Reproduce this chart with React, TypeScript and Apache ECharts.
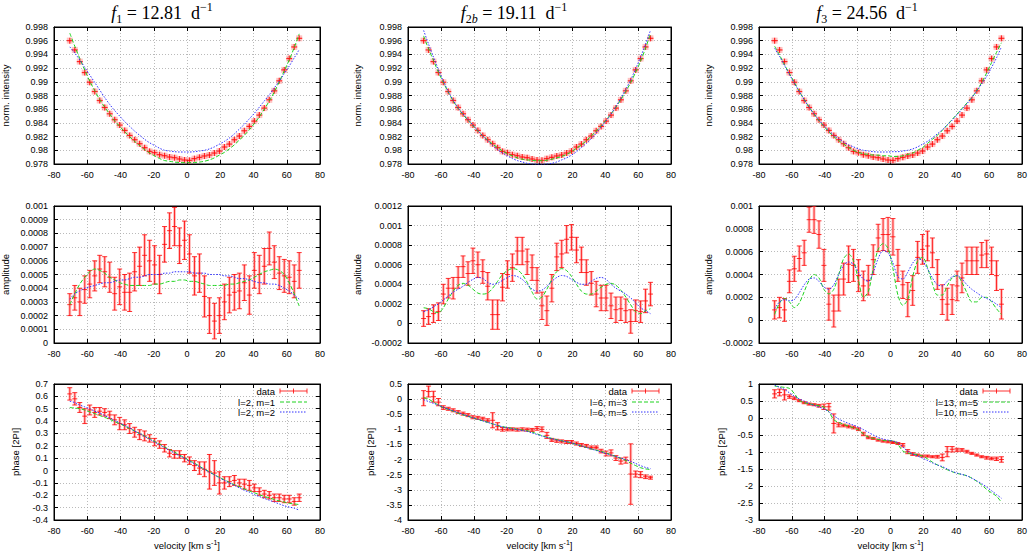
import React, { useEffect, useRef } from "react";
import * as echarts from "echarts";

// velocity grid of the line profile [km/s]
const velocity = [
  -70.5, -67.5, -64.5, -61.5, -58.5, -55.5, -52.5, -49.5, -46.5, -43.5,
  -40.5, -37.5, -34.5, -31.5, -28.5, -25.5, -22.5, -19.5, -16.5, -13.5,
  -10.5, -7.5, -4.5, -1.5, 1.5, 4.5, 7.5, 10.5, 13.5, 16.5,
  19.5, 22.5, 25.5, 28.5, 31.5, 34.5, 37.5, 40.5, 43.5, 46.5,
  49.5, 52.5, 55.5, 58.5, 61.5, 64.5, 67.5,
];

const velocityAxis = [-80, 80, 20];

// row 1: mean line profile (same data in all three columns)
const intensity = [
  0.99601, 0.99465, 0.99295, 0.99135, 0.98994, 0.98858, 0.98727, 0.98625, 0.98533, 0.98446,
  0.98368, 0.9829, 0.98217, 0.98154, 0.98096, 0.98038, 0.97984, 0.97965, 0.97936, 0.97921,
  0.97902, 0.97892, 0.97873, 0.97858, 0.97853, 0.97878, 0.97897, 0.97917, 0.97931, 0.9796,
  0.97989, 0.98048, 0.98091, 0.98154, 0.98208, 0.98285, 0.98349, 0.98426, 0.98514, 0.98616,
  0.98737, 0.98868, 0.99014, 0.99174, 0.99339, 0.99509, 0.99635,
];
const f1IntGreen = [
  0.9971, 0.9952, 0.9934, 0.9917, 0.9901, 0.9887, 0.9874, 0.9863, 0.9853, 0.9843,
  0.9835, 0.9827, 0.982, 0.9813, 0.9807, 0.9801, 0.9796, 0.9792, 0.9788, 0.9785,
  0.9784, 0.97828, 0.97822, 0.9782, 0.9782, 0.97822, 0.97828, 0.9784, 0.9786, 0.9789,
  0.9793, 0.9797, 0.9802, 0.9808, 0.9815, 0.9822, 0.983, 0.9839, 0.9849, 0.986,
  0.9872, 0.9885, 0.99, 0.9916, 0.9932, 0.995, 0.997,
];
const f1IntBlue = [
  0.9951, 0.9942, 0.9932, 0.9921, 0.991, 0.9899, 0.9888, 0.9877, 0.9867, 0.9858,
  0.985, 0.9842, 0.9835, 0.9828, 0.9822, 0.9816, 0.9811, 0.9807, 0.9803, 0.98,
  0.9799, 0.9798, 0.97975, 0.97975, 0.97975, 0.9798, 0.9799, 0.98, 0.9802, 0.9805,
  0.9809, 0.9813, 0.9818, 0.9824, 0.9831, 0.9838, 0.9846, 0.9854, 0.9863, 0.9872,
  0.9881, 0.9891, 0.9901, 0.9912, 0.9923, 0.9935, 0.9947,
];
const f2IntGreen = [
  0.9967, 0.9948, 0.9931, 0.9914, 0.9899, 0.9885, 0.9872, 0.9861, 0.9852, 0.9844,
  0.9836, 0.9828, 0.9821, 0.9815, 0.9809, 0.9804, 0.9799, 0.9795, 0.9792, 0.9789,
  0.9787, 0.9786, 0.97852, 0.97848, 0.97848, 0.97855, 0.9787, 0.9789, 0.9791, 0.9794,
  0.9798, 0.9803, 0.9808, 0.9814, 0.9821, 0.9828, 0.9836, 0.9844, 0.9853, 0.9863,
  0.9874, 0.9886, 0.9899, 0.9914, 0.993, 0.9949, 0.997,
];
const f2IntBlue = [
  0.9975, 0.9955, 0.9936, 0.9918, 0.9901, 0.9886, 0.9873, 0.9862, 0.9853, 0.9845,
  0.9837, 0.9829, 0.9821, 0.9814, 0.9807, 0.9801, 0.9796, 0.9792, 0.9788, 0.9785,
  0.9783, 0.9781, 0.978, 0.97795, 0.97795, 0.978, 0.9781, 0.9783, 0.9786, 0.9789,
  0.9793, 0.9798, 0.9804, 0.981, 0.9817, 0.9825, 0.9834, 0.9843, 0.9853, 0.9864,
  0.9876, 0.9889, 0.9903, 0.9919, 0.9936, 0.9955, 0.9975,
];
const f3IntGreen = [
  0.9952, 0.9939, 0.9925, 0.9912, 0.9899, 0.9886, 0.9874, 0.9863, 0.9853, 0.9843,
  0.9835, 0.9827, 0.982, 0.9814, 0.9809, 0.9804, 0.98, 0.9797, 0.9795, 0.9794,
  0.9793, 0.9793, 0.9792, 0.9792, 0.9791, 0.9791, 0.9792, 0.9794, 0.9796, 0.98,
  0.9804, 0.981, 0.9816, 0.9822, 0.9829, 0.9837, 0.9845, 0.9853, 0.9861, 0.9869,
  0.9877, 0.9887, 0.9899, 0.9913, 0.9928, 0.9943, 0.9957,
];
const f3IntBlue = [
  0.9949, 0.9937, 0.9924, 0.9911, 0.9898, 0.9886, 0.9874, 0.9863, 0.9853, 0.9844,
  0.9836, 0.9829, 0.9822, 0.9817, 0.9812, 0.9808, 0.9805, 0.9802, 0.98, 0.9799,
  0.9798, 0.97975, 0.97975, 0.97975, 0.9798, 0.9798, 0.9799, 0.98, 0.9802, 0.9805,
  0.9809, 0.9813, 0.9818, 0.9824, 0.983, 0.9837, 0.9844, 0.9852, 0.986, 0.9868,
  0.9877, 0.9887, 0.9897, 0.9908, 0.9921, 0.9935, 0.9951,
];

// row 2: amplitude
const f1Amp = [
  0.00028, 0.00033, 0.0003, 0.00039, 0.00043, 0.00049, 0.00054, 0.00052, 0.00048, 0.00036,
  0.00041, 0.00037, 0.00037, 0.00052, 0.00056, 0.00064, 0.0006, 0.00057, 0.0005, 0.00072,
  0.00082, 0.00085, 0.00071, 0.00075, 0.00065, 0.00049, 0.00051, 0.00034, 0.0002, 0.00016,
  0.0002, 0.0003, 0.00035, 0.00037, 0.00038, 0.00044, 0.00035, 0.00053, 0.0005, 0.00056,
  0.00069, 0.00059, 0.00051, 0.00049, 0.00048, 0.00045, 0.00053,
];
const f1AmpErr = [
  0.00008, 0.00009, 0.0001, 0.0001, 0.0001, 0.00011, 0.0001, 0.00011, 0.00011, 0.00012,
  0.00013, 0.00013, 0.00014, 0.00014, 0.00014, 0.00015, 0.00015, 0.00014, 0.00014, 0.00013,
  0.00013, 0.00014, 0.00013, 0.00014, 0.00014, 0.00014, 0.00014, 0.00015, 0.00013, 0.00013,
  0.00013, 0.00013, 0.00013, 0.00013, 0.00013, 0.00013, 0.00014, 0.00013, 0.00014, 0.00013,
  0.00012, 0.00012, 0.00012, 0.00012, 0.00012, 0.00012, 0.00013,
];
const f1AmpGreen = [
  0.00028, 0.00036, 0.00043, 0.00048, 0.00052, 0.00054, 0.00053, 0.00051, 0.00048, 0.00046,
  0.00044, 0.00043, 0.00042, 0.00042, 0.00042, 0.00042, 0.00042, 0.00043, 0.00043, 0.00044,
  0.00045, 0.00045, 0.00046, 0.00046, 0.00045, 0.00045, 0.00044, 0.00043, 0.00042, 0.00042,
  0.00042, 0.00042, 0.00043, 0.00043, 0.00044, 0.00045, 0.00046, 0.00048, 0.0005, 0.00052,
  0.00053, 0.00054, 0.00053, 0.0005, 0.00044, 0.00036, 0.00027,
];
const f1AmpBlue = [
  0.00032, 0.00036, 0.00038, 0.0004, 0.00041, 0.00042, 0.00043, 0.00044, 0.00044, 0.00045,
  0.00046, 0.00046, 0.00047, 0.00048, 0.00048, 0.00049, 0.0005, 0.0005, 0.0005, 0.00051,
  0.00051, 0.00052, 0.00052, 0.00052, 0.00052, 0.00051, 0.00051, 0.00051, 0.0005, 0.0005,
  0.0005, 0.00049, 0.00049, 0.00048, 0.00047, 0.00047, 0.00046, 0.00045, 0.00044, 0.00044,
  0.00043, 0.00043, 0.00042, 0.0004, 0.00038, 0.00035, 0.00032,
];
const f2Amp = [
  0.00005, 0.00007, 0.0001, 0.00012, 0.0003, 0.00036, 0.00036, 0.00047, 0.00058, 0.00051,
  0.00064, 0.0006, 0.00053, 0.00038, 0.00009, 0.00009, 0.00037, 0.0005, 0.00057, 0.00074,
  0.00074, 0.00063, 0.00057, 0.00044, 0.00018, 0.00013, 0.00036, 0.00068, 0.00071, 0.00086,
  0.00088, 0.00075, 0.00065, 0.00052, 0.00041, 0.0003, 0.00026, 0.00026, 0.00018, 0.00014,
  0.00015, 0.00013, 0.00002, 0.00013, 0.00012, 0.00023, 0.0003,
];
const f2AmpErr = [
  0.00008, 0.00008, 0.00009, 0.00009, 0.0001, 0.0001, 0.00011, 0.00011, 0.00011, 0.00012,
  0.00013, 0.00013, 0.00012, 0.00014, 0.00015, 0.00015, 0.00014, 0.00014, 0.00014, 0.00014,
  0.00014, 0.00013, 0.00013, 0.00013, 0.00014, 0.00015, 0.00014, 0.00014, 0.00014, 0.00014,
  0.00013, 0.00013, 0.00013, 0.00013, 0.00012, 0.00013, 0.00013, 0.00013, 0.00013, 0.00013,
  0.00012, 0.00012, 0.00012, 0.00011, 0.00011, 0.00012, 0.00012,
];
const f2AmpGreen = [
  0.00016, 0.00015, 0.00012, 0.00011, 0.00016, 0.00025, 0.00033, 0.00039, 0.00041, 0.00039,
  0.00035, 0.00031, 0.0003, 0.00031, 0.00036, 0.00043, 0.0005, 0.00054, 0.00056, 0.00055,
  0.0005, 0.00042, 0.00032, 0.00025, 0.00027, 0.00035, 0.00045, 0.00053, 0.00056, 0.00054,
  0.00048, 0.0004, 0.00033, 0.0003, 0.0003, 0.00033, 0.00037, 0.0004, 0.00041, 0.00039,
  0.00034, 0.00027, 0.00019, 0.00012, 0.0001, 0.00013, 0.00015,
];
const f2AmpBlue = [
  0.00012, 0.00014, 0.00017, 0.0002, 0.00024, 0.00028, 0.00032, 0.00035, 0.00038, 0.00042,
  0.00045, 0.00047, 0.00046, 0.00042, 0.0004, 0.00041, 0.00044, 0.00047, 0.00049, 0.00048,
  0.00045, 0.0004, 0.00035, 0.00033, 0.00034, 0.00038, 0.00043, 0.00047, 0.00049, 0.00048,
  0.00045, 0.00042, 0.0004, 0.0004, 0.00043, 0.00046, 0.00047, 0.00045, 0.0004, 0.00036,
  0.00033, 0.0003, 0.00026, 0.00021, 0.00016, 0.00013, 0.0001,
];
const f3Amp = [
  0.00009, 0.00011, 0.00009, 0.00034, 0.00045, 0.00054, 0.00059, 0.00088, 0.00088, 0.00075,
  0.00048, 0.00014, 0.00008, 0.00022, 0.00036, 0.00049, 0.00048, 0.00039, 0.0003, 0.00035,
  0.00053, 0.00072, 0.00075, 0.00075, 0.00073, 0.00048, 0.00031, 0.00018, 0.00026, 0.00055,
  0.00062, 0.00065, 0.00059, 0.0004, 0.00018, 0.00014, 0.00018, 0.0003, 0.00037, 0.00052,
  0.00052, 0.00052, 0.00057, 0.00058, 0.00052, 0.00039, 0.00014,
];
const f3AmpErr = [
  0.00008, 0.00009, 0.0001, 0.0001, 0.00011, 0.00011, 0.00011, 0.00011, 0.00012, 0.00012,
  0.00014, 0.00014, 0.00014, 0.00014, 0.00014, 0.00016, 0.00014, 0.00014, 0.00013, 0.00013,
  0.00013, 0.00012, 0.00014, 0.00015, 0.00016, 0.00014, 0.00012, 0.00015, 0.00013, 0.00014,
  0.00013, 0.00013, 0.00013, 0.00013, 0.00013, 0.00014, 0.00013, 0.00013, 0.00013, 0.00012,
  0.00012, 0.00012, 0.00011, 0.00012, 0.00012, 0.00013, 0.00013,
];
const f3AmpGreen = [
  0.00005, 0.00015, 0.00019, 0.00016, 0.00011, 0.00015, 0.00025, 0.00035, 0.0004, 0.00037,
  0.00027, 0.00023, 0.00027, 0.0004, 0.00054, 0.00058, 0.00052, 0.00035, 0.0002, 0.00025,
  0.00045, 0.00062, 0.00067, 0.00063, 0.00045, 0.00022, 0.00013, 0.00018, 0.00038, 0.00052,
  0.00055, 0.00046, 0.00032, 0.00022, 0.00022, 0.0003, 0.00037, 0.00039, 0.00033, 0.00024,
  0.00016, 0.00016, 0.0002, 0.0002, 0.00016, 0.0001, 0.00005,
];
const f3AmpBlue = [
  0.0001, 0.00016, 0.00018, 0.00017, 0.00018, 0.00024, 0.00031, 0.00036, 0.00037, 0.00034,
  0.00029, 0.00027, 0.00031, 0.0004, 0.00048, 0.00051, 0.00049, 0.00042, 0.00036, 0.00034,
  0.00042, 0.00054, 0.00061, 0.00059, 0.0005, 0.00038, 0.00036, 0.00042, 0.0005, 0.00054,
  0.00052, 0.00045, 0.00037, 0.00031, 0.0003, 0.00034, 0.00038, 0.00039, 0.00036, 0.00031,
  0.00027, 0.00024, 0.00021, 0.00019, 0.00017, 0.00014, 0.00011,
];

// row 3: phase [2PI]
const f1Phase = [
  0.62, 0.58, 0.51, 0.44, 0.49, 0.47, 0.48, 0.47, 0.45, 0.41,
  0.38, 0.37, 0.34, 0.31, 0.29, 0.28, 0.26, 0.23, 0.21, 0.18,
  0.14, 0.13, 0.13, 0.1, 0.08, 0.04, 0.02, 0.01, -0.01, -0.02,
  -0.1, -0.1, -0.09, -0.08, -0.1, -0.11, -0.12, -0.14, -0.17, -0.19,
  -0.2, -0.22, -0.22, -0.23, -0.23, -0.25, -0.22,
];
const f1PhaseErr = [
  0.05, 0.05, 0.04, 0.06, 0.04, 0.04, 0.03, 0.03, 0.03, 0.04,
  0.05, 0.04, 0.04, 0.04, 0.04, 0.04, 0.03, 0.03, 0.03, 0.03,
  0.03, 0.03, 0.03, 0.03, 0.03, 0.04, 0.05, 0.06, 0.14, 0.1,
  0.09, 0.05, 0.04, 0.04, 0.03, 0.04, 0.04, 0.03, 0.03, 0.03,
  0.03, 0.03, 0.03, 0.03, 0.03, 0.03, 0.03,
];
const f1PhaseGreen = [
  0.51, 0.505, 0.5, 0.49, 0.475, 0.46, 0.445, 0.43, 0.415, 0.395,
  0.38, 0.36, 0.34, 0.32, 0.3, 0.28, 0.26, 0.235, 0.215, 0.19,
  0.17, 0.15, 0.125, 0.105, 0.08, 0.06, 0.035, 0.01, -0.01, -0.035,
  -0.055, -0.075, -0.095, -0.115, -0.13, -0.15, -0.165, -0.18, -0.195, -0.21,
  -0.22, -0.235, -0.245, -0.255, -0.265, -0.27, -0.275,
];
const f1PhaseBlue = [
  0.56, 0.55, 0.53, 0.515, 0.5, 0.48, 0.465, 0.445, 0.425, 0.405,
  0.385, 0.365, 0.345, 0.32, 0.3, 0.275, 0.255, 0.23, 0.21, 0.185,
  0.165, 0.14, 0.12, 0.1, 0.075, 0.055, 0.03, 0.01, -0.015, -0.035,
  -0.06, -0.08, -0.1, -0.12, -0.14, -0.16, -0.175, -0.195, -0.21, -0.225,
  -0.24, -0.255, -0.27, -0.285, -0.295, -0.305, -0.32,
];
const f2Phase = [
  0.03, 0.25, 0.08, -0.1, -0.28, -0.32, -0.37, -0.43, -0.48, -0.53,
  -0.6, -0.62, -0.65, -0.7, -0.7, -0.9, -1.0, -1.0, -1.0, -1.01,
  -1.0, -1.01, -1.02, -0.97, -1.0, -1.2, -1.35, -1.38, -1.4, -1.42,
  -1.42, -1.47, -1.52, -1.55, -1.6, -1.6, -1.72, -1.8, -1.78, -1.95,
  -2.05, -2.02, -2.48, -2.48, -2.5, -2.57, -2.6,
];
const f2PhaseErr = [
  0.25, 0.18, 0.18, 0.12, 0.06, 0.05, 0.05, 0.05, 0.05, 0.05,
  0.05, 0.05, 0.05, 0.05, 0.25, 0.12, 0.06, 0.05, 0.05, 0.05,
  0.05, 0.05, 0.05, 0.06, 0.08, 0.1, 0.05, 0.05, 0.05, 0.05,
  0.05, 0.05, 0.05, 0.05, 0.05, 0.05, 0.06, 0.08, 0.1, 0.08,
  0.1, 0.1, 1.0, 0.1, 0.1, 0.06, 0.05,
];
const f2PhaseGreen = [
  0.05, 0.0, -0.1, -0.2, -0.28, -0.34, -0.4, -0.46, -0.52, -0.57,
  -0.62, -0.67, -0.72, -0.77, -0.82, -0.87, -0.91, -0.94, -0.97, -1.0,
  -1.02, -1.05, -1.09, -1.15, -1.21, -1.26, -1.3, -1.34, -1.38, -1.41,
  -1.45, -1.5, -1.55, -1.6, -1.65, -1.69, -1.73, -1.78, -1.84, -1.9,
  -1.96, -2.03, -2.12, -2.2, -2.27, -2.31, -2.33,
];
const f2PhaseBlue = [
  -0.02, -0.08, -0.14, -0.2, -0.27, -0.33, -0.39, -0.45, -0.51, -0.56,
  -0.62, -0.67, -0.72, -0.77, -0.82, -0.87, -0.92, -0.95, -0.98, -1.01,
  -1.04, -1.07, -1.12, -1.17, -1.22, -1.27, -1.31, -1.35, -1.38, -1.41,
  -1.45, -1.5, -1.55, -1.6, -1.65, -1.7, -1.75, -1.8, -1.85, -1.9,
  -1.95, -2.0, -2.06, -2.13, -2.2, -2.26, -2.3,
];
const f3Phase = [
  0.71, 0.75, 0.68, 0.63, 0.58, 0.51, 0.45, 0.41, 0.39, 0.36,
  0.33, 0.33, -0.16, -0.2, -0.22, -0.25, -0.28, -0.33, -0.47, -0.57,
  -0.6, -0.65, -0.68, -0.7, -0.72, -0.75, -0.8, -0.99, -1.06, -1.09,
  -1.12, -1.12, -1.14, -1.14, -1.16, -0.99, -0.92, -0.94, -0.94, -0.99,
  -1.04, -1.09, -1.14, -1.17, -1.19, -1.2, -1.22,
];
const f3PhaseErr = [
  0.12, 0.1, 0.15, 0.05, 0.04, 0.03, 0.03, 0.03, 0.03, 0.04,
  0.08, 0.1, 0.28, 0.06, 0.04, 0.04, 0.04, 0.04, 0.05, 0.04,
  0.03, 0.03, 0.03, 0.03, 0.03, 0.03, 0.05, 0.06, 0.04, 0.03,
  0.03, 0.03, 0.03, 0.04, 0.1, 0.15, 0.08, 0.05, 0.04, 0.04,
  0.03, 0.03, 0.03, 0.04, 0.04, 0.05, 0.08,
];
const f3PhaseGreen = [
  0.94, 0.92, 0.9, 0.87, 0.72, 0.52, 0.45, 0.42, 0.39, 0.36,
  0.32, 0.18, -0.05, -0.13, -0.19, -0.24, -0.29, -0.35, -0.47, -0.56,
  -0.6, -0.63, -0.66, -0.67, -0.67, -0.78, -0.97, -1.03, -1.06, -1.08,
  -1.12, -1.2, -1.3, -1.38, -1.45, -1.52, -1.58, -1.63, -1.66, -1.7,
  -1.77, -1.86, -1.97, -2.1, -2.2, -2.3, -2.48,
];
const f3PhaseBlue = [
  0.97, 0.9, 0.84, 0.74, 0.64, 0.56, 0.5, 0.43, 0.37, 0.32,
  0.27, 0.18, 0.07, -0.03, -0.1, -0.16, -0.21, -0.27, -0.34, -0.42,
  -0.5, -0.57, -0.62, -0.65, -0.68, -0.72, -0.85, -0.98, -1.06, -1.12,
  -1.18, -1.25, -1.32, -1.38, -1.43, -1.5, -1.57, -1.62, -1.66, -1.7,
  -1.77, -1.85, -1.93, -2.03, -2.14, -2.25, -2.36,
];

const titles = [
  "{i|f}{s|1}{n| = 12.81  d}{p|−1}",
  "{i|f}{s|2}{si|b}{n| = 19.11  d}{p|−1}",
  "{i|f}{s|3}{n| = 24.56  d}{p|−1}",
];
const rowNames = ["norm. intensity", "amplitude", "phase [2PI]"];
const legendNames = [
  ["l=2, m=1", "l=2, m=2"],
  ["l=6, m=3", "l=6, m=5"],
  ["l=13, m=5", "l=10, m=5"],
];

// y ranges [min, max, step] per row, per column
const yRanges = [
  [[0.978, 0.998, 0.002], [0.978, 0.998, 0.002], [0.978, 0.998, 0.002]],
  [[0, 0.001, 0.0001], [-0.0002, 0.0012, 0.0002], [-0.0002, 0.001, 0.0002]],
  [[-0.4, 0.7, 0.1], [-4, 0.5, 0.5], [-3, 1, 0.5]],
];

const panelData = [
  [
    { values: intensity, err: null, green: f1IntGreen, blue: f1IntBlue },
    { values: intensity, err: null, green: f2IntGreen, blue: f2IntBlue },
    { values: intensity, err: null, green: f3IntGreen, blue: f3IntBlue },
  ],
  [
    { values: f1Amp, err: f1AmpErr, green: f1AmpGreen, blue: f1AmpBlue },
    { values: f2Amp, err: f2AmpErr, green: f2AmpGreen, blue: f2AmpBlue },
    { values: f3Amp, err: f3AmpErr, green: f3AmpGreen, blue: f3AmpBlue },
  ],
  [
    { values: f1Phase, err: f1PhaseErr, green: f1PhaseGreen, blue: f1PhaseBlue },
    { values: f2Phase, err: f2PhaseErr, green: f2PhaseGreen, blue: f2PhaseBlue },
    { values: f3Phase, err: f3PhaseErr, green: f3PhaseGreen, blue: f3PhaseBlue },
  ],
];

const SANS = '"Liberation Sans", Arial, sans-serif';
const SERIF = '"Liberation Serif", "Times New Roman", serif';
const RED = "rgba(255,0,0,0.8)";
const PINK = "rgba(255,120,120,0.45)";
const GREEN = "#1fd31f";
const BLUE = "#3030ff";

const COL_LEFT = [54, 408, 759];
const COL_WIDTH = [266, 263, 263];
const ROW_TOP = [27, 206, 384];
const ROW_HEIGHT = [137, 137, 136];
const TITLE_X = [162, 514, 867];
const NAME_X = [
  [5, 5, 15],
  [357, 357, 370],
  [708, 708, 721],
];
const LEGEND_RIGHT = [275, 627, 978];

const fmt = (v: number) => String(Number(v.toPrecision(8)));

const renderPoint = (params: any, api: any) => {
  const v = api.value(0);
  const y = api.value(1);
  const e = api.value(2);
  const c = api.coord([v, y]);
  const children: any[] = [];
  if (e > 0) {
    const top = api.coord([v, y + e])[1];
    const bot = api.coord([v, y - e])[1];
    children.push(
      { type: "line", shape: { x1: c[0], y1: top, x2: c[0], y2: bot }, style: { stroke: PINK, lineWidth: 3 } },
      { type: "line", shape: { x1: c[0], y1: top, x2: c[0], y2: bot }, style: { stroke: RED, lineWidth: 1 } },
      { type: "line", shape: { x1: c[0] - 2.5, y1: top, x2: c[0] + 2.5, y2: top }, style: { stroke: RED, lineWidth: 1 } },
      { type: "line", shape: { x1: c[0] - 2.5, y1: bot, x2: c[0] + 2.5, y2: bot }, style: { stroke: RED, lineWidth: 1 } },
      { type: "line", shape: { x1: c[0] - 2.5, y1: c[1], x2: c[0] + 2.5, y2: c[1] }, style: { stroke: RED, lineWidth: 1 } }
    );
  } else {
    children.push(
      { type: "rect", shape: { x: c[0] - 3, y: c[1] - 3, width: 6, height: 6 }, style: { fill: PINK } },
      { type: "line", shape: { x1: c[0] - 3, y1: c[1], x2: c[0] + 3, y2: c[1] }, style: { stroke: RED, lineWidth: 1.2 } },
      { type: "line", shape: { x1: c[0], y1: c[1] - 3, x2: c[0], y2: c[1] + 3 }, style: { stroke: RED, lineWidth: 1.2 } }
    );
  }
  return { type: "group", children };
};

const titleRich = {
  i: { fontFamily: SERIF, fontStyle: "italic", fontSize: 18, lineHeight: 24, fill: "#000" },
  n: { fontFamily: SERIF, fontSize: 18, lineHeight: 24, fill: "#000" },
  s: { fontFamily: SERIF, fontSize: 12, lineHeight: 12, verticalAlign: "bottom", fill: "#000" },
  si: { fontFamily: SERIF, fontSize: 12, fontStyle: "italic", lineHeight: 12, verticalAlign: "bottom", fill: "#000" },
  p: { fontFamily: SERIF, fontSize: 12, lineHeight: 12, verticalAlign: "top", fill: "#000" },
};

const App = () => {
  const chartRef = useRef<HTMLDivElement>(null);

  useEffect(() => {
    if (!chartRef.current) return;
    const chart = echarts.init(chartRef.current, undefined, { renderer: "svg" });

    const grid: any[] = [];
    const xAxis: any[] = [];
    const yAxis: any[] = [];
    const series: any[] = [];
    const graphic: any[] = [];

    const tickStyle = { inside: true, length: 4, lineStyle: { color: "#000", width: 1 } };
    const labelStyle = { color: "#000", fontSize: 9, fontFamily: SANS, margin: 6 };
    const gridLine = { show: true, lineStyle: { color: "#a8a8a8", width: 0.8, type: [1, 2] } };

    for (let r = 0; r < 3; r++) {
      for (let c = 0; c < 3; c++) {
        const p = r * 3 + c;
        const [ymin, ymax, ystep] = yRanges[r][c];
        const d = panelData[r][c];
        grid.push({
          left: COL_LEFT[c],
          top: ROW_TOP[r],
          width: COL_WIDTH[c],
          height: ROW_HEIGHT[r],
          show: true,
          borderColor: "#000",
          borderWidth: 1,
        });
        const xBase = {
          type: "value",
          gridIndex: p,
          min: velocityAxis[0],
          max: velocityAxis[1],
          interval: velocityAxis[2],
          axisTick: tickStyle,
          axisLine: { show: true, onZero: false, lineStyle: { color: "#000" } },
        };
        xAxis.push({ ...xBase, position: "bottom", axisLabel: { ...labelStyle, formatter: fmt }, splitLine: gridLine });
        xAxis.push({ ...xBase, position: "top", axisLabel: { show: false }, splitLine: { show: false } });
        const yBase = {
          type: "value",
          gridIndex: p,
          min: ymin,
          max: ymax,
          interval: ystep,
          axisTick: tickStyle,
          axisLine: { show: true, onZero: false, lineStyle: { color: "#000" } },
        };
        yAxis.push({ ...yBase, position: "left", axisLabel: { ...labelStyle, formatter: fmt }, splitLine: gridLine });
        yAxis.push({ ...yBase, position: "right", axisLabel: { show: false }, splitLine: { show: false } });

        series.push({
          type: "custom",
          name: "data",
          xAxisIndex: 2 * p,
          yAxisIndex: 2 * p,
          clip: true,
          encode: { x: 0, y: 1 },
          data: velocity.map((v, i) => [v, d.values[i], d.err ? d.err[i] : 0]),
          renderItem: renderPoint,
        });
        series.push({
          type: "line",
          xAxisIndex: 2 * p,
          yAxisIndex: 2 * p,
          showSymbol: false,
          smooth: 0.3,
          data: velocity.map((v, i) => [v, d.green[i]]),
          lineStyle: { color: GREEN, width: 1, type: [4, 2] },
        });
        series.push({
          type: "line",
          xAxisIndex: 2 * p,
          yAxisIndex: 2 * p,
          showSymbol: false,
          smooth: 0.3,
          data: velocity.map((v, i) => [v, d.blue[i]]),
          lineStyle: { color: BLUE, width: 1, type: [1.5, 1.5] },
        });

        graphic.push({
          type: "text",
          x: NAME_X[c][r],
          y: ROW_TOP[r] + ROW_HEIGHT[r] / 2,
          rotation: Math.PI / 2,
          style: {
            text: rowNames[r],
            align: "center",
            verticalAlign: "middle",
            fontSize: 9.5,
            fontFamily: SANS,
            fill: "#000",
          },
        });
      }
    }

    for (let c = 0; c < 3; c++) {
      graphic.push({
        type: "text",
        x: TITLE_X[c],
        y: 13,
        style: { text: titles[c], align: "center", verticalAlign: "middle", rich: titleRich },
      });
      graphic.push({
        type: "text",
        x: COL_LEFT[c] + COL_WIDTH[c] / 2,
        y: 545,
        style: {
          text: "{n|velocity [km s}{p|-1}{n|]}",
          align: "center",
          verticalAlign: "middle",
          rich: {
            n: { fontFamily: SANS, fontSize: 9.5, lineHeight: 12, fill: "#000" },
            p: { fontFamily: SANS, fontSize: 7, lineHeight: 8, verticalAlign: "top", fill: "#000" },
          },
        },
      });

      // legend
      const xr = LEGEND_RIGHT[c];
      const ly = [391, 402, 412];
      const labels = ["data", legendNames[c][0], legendNames[c][1]];
      labels.forEach((t, k) =>
        graphic.push({
          type: "text",
          x: xr,
          y: ly[k],
          style: { text: t, align: "right", verticalAlign: "middle", fontSize: 9.5, fontFamily: SANS, fill: "#000" },
        })
      );
      const x1 = xr + 5;
      const x2 = xr + 32;
      const xm = (x1 + x2) / 2;
      graphic.push(
        { type: "line", shape: { x1, y1: ly[0], x2, y2: ly[0] }, style: { stroke: RED, lineWidth: 1 } },
        { type: "line", shape: { x1, y1: ly[0] - 2.5, x2: x1, y2: ly[0] + 2.5 }, style: { stroke: RED, lineWidth: 1 } },
        { type: "line", shape: { x1: x2, y1: ly[0] - 2.5, x2, y2: ly[0] + 2.5 }, style: { stroke: RED, lineWidth: 1 } },
        { type: "line", shape: { x1: xm, y1: ly[0] - 2.5, x2: xm, y2: ly[0] + 2.5 }, style: { stroke: RED, lineWidth: 1 } },
        { type: "line", shape: { x1, y1: ly[1], x2, y2: ly[1] }, style: { stroke: GREEN, lineWidth: 1, lineDash: [4, 2] } },
        { type: "line", shape: { x1, y1: ly[2], x2, y2: ly[2] }, style: { stroke: BLUE, lineWidth: 1, lineDash: [1.5, 1.5] } }
      );
    }

    chart.setOption({
      animation: false,
      backgroundColor: "#fff",
      grid,
      xAxis,
      yAxis,
      series,
      graphic,
    });

    return () => {
      chart.dispose();
    };
  }, []);

  return (
    <div
      ref={chartRef}
      style={{ position: "absolute", left: 0, top: 0, width: 1030, height: 551, background: "#fff" }}
    />
  );
};

export default App;
